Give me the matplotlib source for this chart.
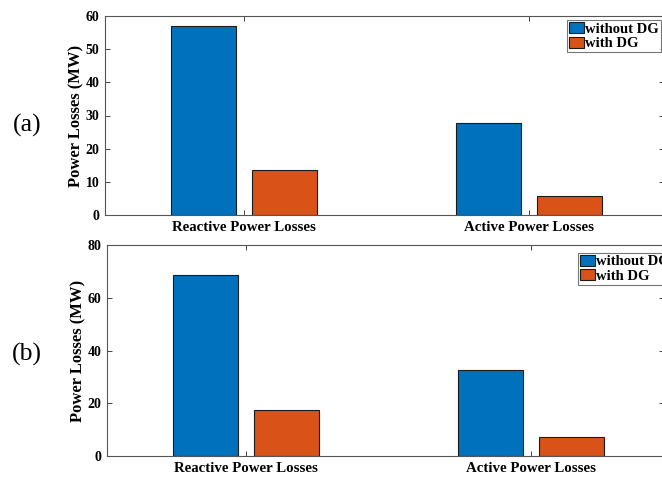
import matplotlib
matplotlib.use("Agg")
import matplotlib.pyplot as plt
import numpy as np

categories = ["Reactive Power Losses", "Active Power Losses"]
series_names = ["without DG", "with DG"]
values_a_without = [57.0, 27.6]
values_a_with = [13.6, 5.6]
values_b_without = [68.8, 32.8]
values_b_with = [17.4, 7.3]
yticks_a = [0, 10, 20, 30, 40, 50, 60]
yticks_b = [0, 20, 40, 60, 80]

BLUE = "#0072BD"
ORANGE = "#D95319"
W, H = 662, 478

plt.rcParams["font.family"] = ["Liberation Serif", "DejaVu Serif"]

fig = plt.figure(figsize=(W / 100, H / 100), dpi=100)


def make_axes(left_px, top_px, bottom_px, right_px, tick1_px, tick2_px):
    unit = tick2_px - tick1_px
    ax = fig.add_axes([left_px / W, 1 - bottom_px / H,
                       (right_px - left_px) / W, (bottom_px - top_px) / H])
    x0 = 1 - (tick1_px - left_px) / unit
    x1 = 2 + (right_px - tick2_px) / unit
    ax.set_xlim(x0, x1)
    return ax


def draw(ax, v_without, v_with, yticks, ylim, leg_anchor):
    x = np.arange(1, len(categories) + 1)
    off = 0.142
    w = 0.228
    ax.bar(x - off, v_without, w, color=BLUE, edgecolor="#1a1a1a",
           linewidth=0.8, label=series_names[0], zorder=2)
    ax.bar(x + off, v_with, w, color=ORANGE, edgecolor="#1a1a1a",
           linewidth=0.8, label=series_names[1], zorder=2)
    ax.set_ylim(*ylim)
    ax.set_yticks(yticks)
    ax.set_xticks(x)
    ax.set_xticklabels(categories)
    ax.tick_params(direction="in", length=3.5, width=0.6, top=True,
                   right=True, color="#262626", labelsize=10, pad=4)
    ax.tick_params(axis="x", labelsize=10.7)
    for lbl in ax.get_xticklabels() + ax.get_yticklabels():
        lbl.set_fontweight("bold")
    for s in ax.spines.values():
        s.set_color("#555555")
        s.set_linewidth(0.8)
    ax.set_ylabel("Power Losses (MW)", fontsize=12, fontweight="bold",
                  labelpad=1)
    leg = fig.legend(handles=ax.patches[:1] + ax.patches[2:3],
                     labels=series_names, loc="upper left",
                     bbox_to_anchor=leg_anchor, frameon=True, fancybox=False,
                     prop={"weight": "bold", "size": 10.5},
                     handlelength=1.0, handleheight=0.8, handletextpad=0.1,
                     borderpad=0.15, labelspacing=0.05, borderaxespad=0)
    leg.get_frame().set_edgecolor("#555555")
    leg.get_frame().set_linewidth(0.8)


ax1 = make_axes(105, 16, 215, 664, 244, 529)
draw(ax1, values_a_without, values_a_with, yticks_a, (0, 60),
     (567 / W, 1 - 20 / H))

ax2 = make_axes(107, 245, 456.3, 664, 246, 531)
draw(ax2, values_b_without, values_b_with, yticks_b, (0, 80),
     (578 / W, 1 - 252.5 / H))

fig.text(27 / W, 1 - 125 / H, "(a)", fontsize=18.5, ha="center", va="center")
fig.text(27 / W, 1 - 354 / H, "(b)", fontsize=18.5, ha="center", va="center")

fig.savefig("out.png", dpi=100)
